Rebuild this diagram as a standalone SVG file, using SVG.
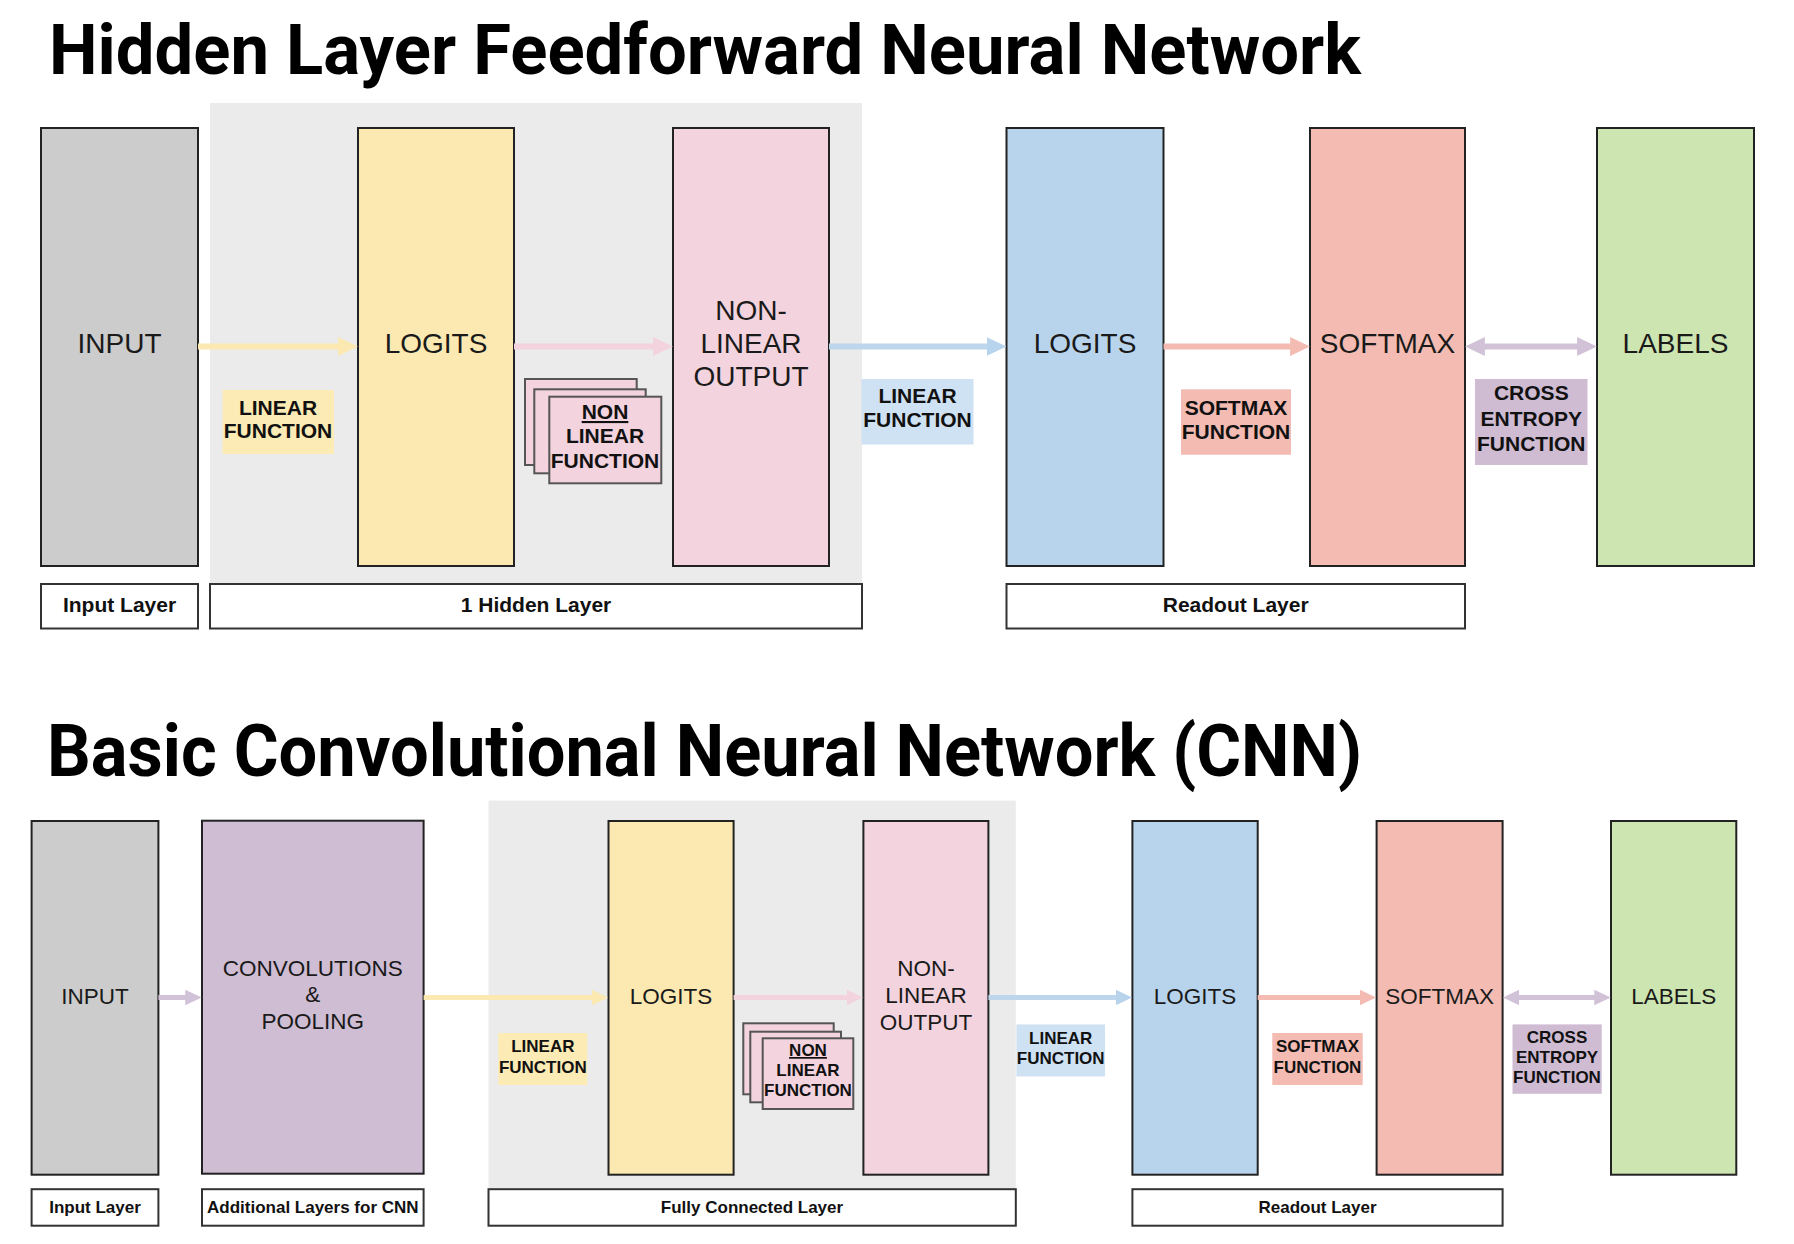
<svg xmlns="http://www.w3.org/2000/svg" width="1794" height="1244" viewBox="0 0 1794 1244">
<style>
.title{font-family:Roboto,"Liberation Sans",sans-serif;font-weight:700;fill:#000}
.node{stroke:#222;stroke-width:2}
.nt{font-family:"Liberation Sans",Arial,sans-serif;fill:#1a1a1a;text-anchor:middle}
.big{font-size:28px}
.small{font-size:22.5px}
.fn{font-family:"Liberation Sans",Arial,sans-serif;font-weight:700;fill:#111;text-anchor:middle}
.fn1{font-size:21px}
.fn2{font-size:17px}
.lay{fill:#fff;stroke:#333;stroke-width:2}
.stk{fill:#f3d3de;stroke:#555;stroke-width:2}
.bg{fill:#ebebeb}
.gray{fill:#cccccc}.yel{fill:#fbe9b1}.pnk{fill:#f3d3de}.blu{fill:#b8d4ec}.sal{fill:#f3bbb1}.grn{fill:#cde5b0}.pur{fill:#cfbdd3}
.lblu{fill:#cfe2f3}.lpur{fill:#cfbcd3}.lyel{fill:#fcebb4}.lsal{fill:#f3bbb1}
.ar{fill:none}
</style>
<defs>
<marker id="mY" viewBox="0 0 20 20" markerWidth="3.3" markerHeight="3.3" refX="10" refY="10" orient="auto-start-reverse"><path d="M0,0.5 L20,10 L0,19.5 z" fill="#fbe9b1"/></marker>
<marker id="mP" viewBox="0 0 20 20" markerWidth="3.3" markerHeight="3.3" refX="10" refY="10" orient="auto-start-reverse"><path d="M0,0.5 L20,10 L0,19.5 z" fill="#f3d3de"/></marker>
<marker id="mB" viewBox="0 0 20 20" markerWidth="3.3" markerHeight="3.3" refX="10" refY="10" orient="auto-start-reverse"><path d="M0,0.5 L20,10 L0,19.5 z" fill="#b8d4ec"/></marker>
<marker id="mS" viewBox="0 0 20 20" markerWidth="3.3" markerHeight="3.3" refX="10" refY="10" orient="auto-start-reverse"><path d="M0,0.5 L20,10 L0,19.5 z" fill="#f3bbb1"/></marker>
<marker id="mU" viewBox="0 0 20 20" markerWidth="3.3" markerHeight="3.3" refX="10" refY="10" orient="auto-start-reverse"><path d="M0,0.5 L20,10 L0,19.5 z" fill="#d2c2d8"/></marker>
</defs>
<rect width="1794" height="1244" fill="#fff"/>

<!-- ===== TOP ===== -->
<text class="title" x="49" y="74" font-size="71" textLength="1312" lengthAdjust="spacingAndGlyphs">Hidden Layer Feedforward Neural Network</text>
<rect id="hidden-bg" class="bg" x="210" y="103" width="652" height="481"/>

<g id="t-input"><rect class="node gray" x="41" y="128" width="157" height="438"/><text class="nt big" x="119.5" y="353">INPUT</text></g>
<g id="t-logits1"><rect class="node yel" x="358" y="128" width="156" height="438"/><text class="nt big" x="436" y="353">LOGITS</text></g>
<g id="t-nlo"><rect class="node pnk" x="673" y="128" width="156" height="438"/><text class="nt big" x="751" y="320">NON-</text><text class="nt big" x="751" y="353">LINEAR</text><text class="nt big" x="751" y="386">OUTPUT</text></g>
<g id="t-logits2"><rect class="node blu" x="1006.5" y="128" width="157" height="438"/><text class="nt big" x="1085" y="353">LOGITS</text></g>
<g id="t-softmax"><rect class="node sal" x="1310" y="128" width="155" height="438"/><text class="nt big" x="1387.5" y="353">SOFTMAX</text></g>
<g id="t-labels"><rect class="node grn" x="1597" y="128" width="157" height="438"/><text class="nt big" x="1675.5" y="353">LABELS</text></g>

<g id="t-connectors">
<line class="ar" x1="198" y1="346.5" x2="348" y2="346.5" stroke="#fbe9b1" stroke-width="6" marker-end="url(#mY)"/>
<line class="ar" x1="514" y1="346.5" x2="663" y2="346.5" stroke="#f3d3de" stroke-width="6" marker-end="url(#mP)"/>
<line class="ar" x1="829" y1="346.5" x2="996.5" y2="346.5" stroke="#bed6ec" stroke-width="6" marker-end="url(#mB)"/>
<line class="ar" x1="1163.5" y1="346.5" x2="1300" y2="346.5" stroke="#f3bbb1" stroke-width="6" marker-end="url(#mS)"/>
<line class="ar" x1="1475" y1="346.5" x2="1587" y2="346.5" stroke="#d2c2d8" stroke-width="6" marker-start="url(#mU)" marker-end="url(#mU)"/>
</g>

<g id="t-linfn1"><rect class="lyel" x="222.5" y="390" width="111.5" height="64"/><text class="fn fn1" x="278" y="415">LINEAR</text><text class="fn fn1" x="278" y="438">FUNCTION</text></g>
<g id="t-nonlin"><rect class="stk" x="525" y="379" width="111.7" height="86"/><rect class="stk" x="534.3" y="389.3" width="111.4" height="84"/><rect class="stk" x="549.3" y="396.7" width="112" height="86.6"/><text class="fn fn1" x="605" y="419" text-decoration="underline">NON</text><text class="fn fn1" x="605" y="443">LINEAR</text><text class="fn fn1" x="605" y="468">FUNCTION</text></g>
<g id="t-linfn2"><rect class="lblu" x="861.5" y="379" width="112" height="65.5"/><text class="fn fn1" x="917.5" y="403">LINEAR</text><text class="fn fn1" x="917.5" y="427">FUNCTION</text></g>
<g id="t-smfn"><rect class="lsal" x="1181" y="389.3" width="110" height="65.4"/><text class="fn fn1" x="1236" y="415">SOFTMAX</text><text class="fn fn1" x="1236" y="439">FUNCTION</text></g>
<g id="t-cefn"><rect class="lpur" x="1475" y="379" width="112.5" height="86"/><text class="fn fn1" x="1531.3" y="400">CROSS</text><text class="fn fn1" x="1531.3" y="425.5">ENTROPY</text><text class="fn fn1" x="1531.3" y="451">FUNCTION</text></g>

<g id="t-layer-input"><rect class="lay" x="41" y="584" width="157" height="44.5"/><text class="fn fn1" x="119.5" y="612">Input Layer</text></g>
<g id="t-layer-hidden"><rect class="lay" x="210" y="584" width="652" height="44.5"/><text class="fn fn1" x="536" y="612">1 Hidden Layer</text></g>
<g id="t-layer-readout"><rect class="lay" x="1006.5" y="584" width="458.5" height="44.5"/><text class="fn fn1" x="1235.7" y="612">Readout Layer</text></g>

<!-- ===== BOTTOM ===== -->
<text class="title" x="47" y="775.6" font-size="72" textLength="1315" lengthAdjust="spacingAndGlyphs">Basic Convolutional Neural Network (CNN)</text>
<rect id="fc-bg" class="bg" x="488.5" y="800.6" width="527.3" height="388.6"/>

<g id="b-input"><rect class="node gray" x="31.6" y="821" width="126.8" height="353.7"/><text class="nt small" x="95" y="1003.5">INPUT</text></g>
<g id="b-conv"><rect class="node pur" x="202" y="820.7" width="221.6" height="353"/><text class="nt small" x="312.8" y="975.8">CONVOLUTIONS</text><text class="nt small" x="312.8" y="1002">&amp;</text><text class="nt small" x="312.8" y="1029">POOLING</text></g>
<g id="b-logits1"><rect class="node yel" x="608.5" y="821" width="125.1" height="353.7"/><text class="nt small" x="671" y="1003.5">LOGITS</text></g>
<g id="b-nlo"><rect class="node pnk" x="863.4" y="821" width="125" height="353.7"/><text class="nt small" x="926" y="975.8">NON-</text><text class="nt small" x="926" y="1003">LINEAR</text><text class="nt small" x="926" y="1029.6">OUTPUT</text></g>
<g id="b-logits2"><rect class="node blu" x="1132.4" y="821" width="125.3" height="353.7"/><text class="nt small" x="1195" y="1003.5">LOGITS</text></g>
<g id="b-softmax"><rect class="node sal" x="1376.6" y="821" width="126" height="353.7"/><text class="nt small" x="1439.6" y="1003.5">SOFTMAX</text></g>
<g id="b-labels"><rect class="node grn" x="1611" y="821" width="125.3" height="353.7"/><text class="nt small" x="1673.7" y="1003.5">LABELS</text></g>

<g id="b-connectors">
<line class="ar" x1="158.4" y1="997.5" x2="193.5" y2="997.5" stroke="#d2c2d8" stroke-width="5" marker-end="url(#mU)"/>
<line class="ar" x1="423.6" y1="997.5" x2="600" y2="997.5" stroke="#fbe9b1" stroke-width="5" marker-end="url(#mY)"/>
<line class="ar" x1="733.6" y1="997.5" x2="855" y2="997.5" stroke="#f3d3de" stroke-width="5" marker-end="url(#mP)"/>
<line class="ar" x1="988.4" y1="997.5" x2="1124" y2="997.5" stroke="#bed6ec" stroke-width="5" marker-end="url(#mB)"/>
<line class="ar" x1="1257.7" y1="997.5" x2="1368" y2="997.5" stroke="#f3bbb1" stroke-width="5" marker-end="url(#mS)"/>
<line class="ar" x1="1511" y1="997.5" x2="1602.5" y2="997.5" stroke="#d2c2d8" stroke-width="5" marker-start="url(#mU)" marker-end="url(#mU)"/>
</g>

<g id="b-linfn1"><rect class="lyel" x="498.3" y="1033" width="89" height="52"/><text class="fn fn2" x="542.8" y="1052">LINEAR</text><text class="fn fn2" x="542.8" y="1073">FUNCTION</text></g>
<g id="b-nonlin"><rect class="stk" x="743.3" y="1023.3" width="90.4" height="71"/><rect class="stk" x="750.3" y="1031.7" width="90.7" height="70.6"/><rect class="stk" x="762.7" y="1038.3" width="90.6" height="70.7"/><text class="fn fn2" x="808" y="1056" text-decoration="underline">NON</text><text class="fn fn2" x="808" y="1076">LINEAR</text><text class="fn fn2" x="808" y="1096">FUNCTION</text></g>
<g id="b-linfn2"><rect class="lblu" x="1016.4" y="1024.4" width="88.6" height="52"/><text class="fn fn2" x="1060.7" y="1043.5">LINEAR</text><text class="fn fn2" x="1060.7" y="1064.3">FUNCTION</text></g>
<g id="b-smfn"><rect class="lsal" x="1272.3" y="1033" width="90.4" height="52"/><text class="fn fn2" x="1317.5" y="1052.2">SOFTMAX</text><text class="fn fn2" x="1317.5" y="1073">FUNCTION</text></g>
<g id="b-cefn"><rect class="lpur" x="1512.5" y="1024.4" width="89.2" height="69.4"/><text class="fn fn2" x="1557" y="1042.8">CROSS</text><text class="fn fn2" x="1557" y="1062.6">ENTROPY</text><text class="fn fn2" x="1557" y="1083.4">FUNCTION</text></g>

<g id="b-layer-input"><rect class="lay" x="31.6" y="1189.2" width="126.8" height="36.5"/><text class="fn fn2" x="95" y="1213">Input Layer</text></g>
<g id="b-layer-add"><rect class="lay" x="202" y="1189.2" width="221.6" height="36.5"/><text class="fn fn2" x="312.8" y="1213">Additional Layers for CNN</text></g>
<g id="b-layer-fc"><rect class="lay" x="488.5" y="1189.2" width="527.3" height="36.5"/><text class="fn fn2" x="752" y="1213">Fully Connected Layer</text></g>
<g id="b-layer-readout"><rect class="lay" x="1132.4" y="1189.2" width="370.2" height="36.5"/><text class="fn fn2" x="1317.5" y="1213">Readout Layer</text></g>
</svg>
